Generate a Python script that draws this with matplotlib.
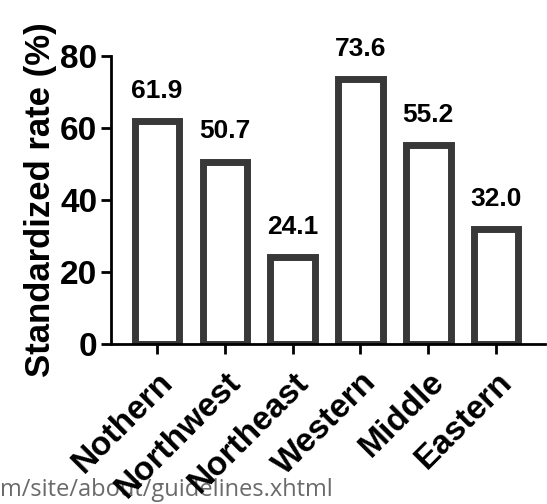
import matplotlib
matplotlib.use("Agg")
import matplotlib.pyplot as plt

# data
regions = ["Nothern", "Northwest", "Northeast", "Western", "Middle", "Eastern"]
rates = [61.9, 50.7, 24.1, 73.6, 55.2, 32.0]
yticks = [0, 20, 40, 60, 80]

plt.rcParams['font.family'] = ['Liberation Sans', 'DejaVu Sans']
plt.rcParams['font.weight'] = 'bold'

fig = plt.figure(figsize=(5.47, 5.04), dpi=100)
ax = fig.add_axes([0.203, 0.317, 0.793, 0.572])

x = list(range(len(regions)))
ax.bar(x, rates, width=0.66, color='white', edgecolor='#383838', linewidth=5)

# value labels above bars
for xi, v in zip(x, rates):
    ax.annotate(f"{v:.1f}", (xi, v), xytext=(0, 13), textcoords='offset points',
                ha='center', va='bottom', fontsize=19, fontweight='bold')

ax.set_xlim(-0.68, 5.72)
ax.set_ylim(0, 80)
ax.set_yticks(yticks)
ax.set_xticks(x)
ax.set_xticklabels(regions, rotation=45, ha='right', rotation_mode='anchor',
                   fontsize=24, fontweight='bold')
ax.tick_params(axis='y', labelsize=24, width=2, length=7, pad=3)
ax.tick_params(axis='x', width=2, length=7, pad=9)
ax.set_ylabel("Standardized rate (%)", fontsize=25, fontweight='bold', labelpad=2)

for s in ['top', 'right']:
    ax.spines[s].set_visible(False)
for s in ['left', 'bottom']:
    ax.spines[s].set_linewidth(2)

# watermark from the source page
fig.text(0.0, 0.004, "m/site/about/guidelines.xhtml", fontsize=17, color='#6a6a6a',
         fontweight='normal', family='Open Sans', ha='left', va='bottom', zorder=-1)

fig.savefig("out.png", dpi=100)
